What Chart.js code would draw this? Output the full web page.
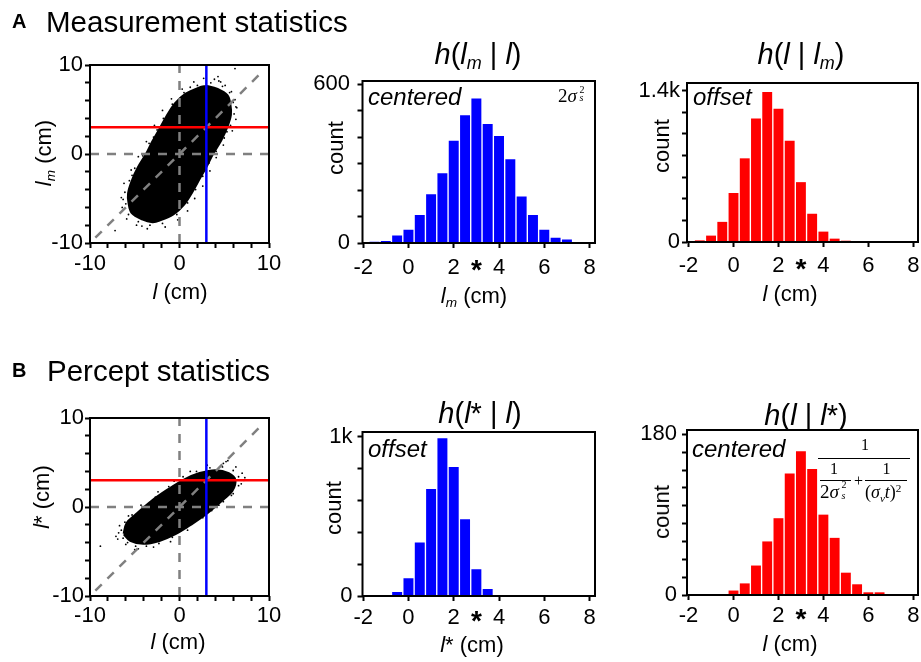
<!DOCTYPE html>
<html>
<head>
<meta charset="utf-8">
<title>Measurement and percept statistics</title>
<script src="https://cdn.jsdelivr.net/npm/chart.js@4.4.1/dist/chart.umd.min.js"></script>
<style>
  html, body { margin: 0; padding: 0; background: #fff; }
  #fig { position: relative; width: 921px; height: 662px; overflow: hidden; background: #fff;
         font-family: 'Liberation Sans', Arial, Helvetica, sans-serif; color: #000; }
  #fig canvas { position: absolute; left: 0; top: 0; }
  .t { position: absolute; white-space: nowrap; line-height: 1; z-index: 2; }
  .c { transform: translate(-50%, -50%); }
  .l { transform: translate(0, -50%); }
  .r { transform: translate(-50%, -50%) rotate(-90deg); }
  .t sub { font-size: 0.62em; vertical-align: -0.32em; line-height: 0; }
  .t sup { font-size: 0.62em; vertical-align: 0.55em; line-height: 0; }
  .serif { font-family: 'Liberation Serif', 'Times New Roman', serif; }
  .fbar { position: absolute; height: 1.3px; background: #000; z-index: 2; }
</style>
</head>
<body>
<div id="fig">
  <canvas id="scatMeas" width="921" height="662"></canvas>
  <canvas id="histLmGivenL" width="921" height="662"></canvas>
  <canvas id="histLGivenLm" width="921" height="662"></canvas>
  <canvas id="scatPercept" width="921" height="662"></canvas>
  <canvas id="histLstarGivenL" width="921" height="662"></canvas>
  <canvas id="histLGivenLstar" width="921" height="662"></canvas>

  <!-- row A -->
  <div class="t l" style="left:12px;top:21px;font-size:20px;font-weight:bold">A</div>
  <div class="t l" style="left:46px;top:22px;font-size:29.5px">Measurement statistics</div>
  <div class="t c" style="left:478px;top:53.5px;font-size:29px"><i>h</i>(<i>l</i><sub><i>m</i></sub> | <i>l</i>)</div>
  <div class="t c" style="left:801px;top:53.5px;font-size:29px"><i>h</i>(<i>l</i> | <i>l</i><sub><i>m</i></sub>)</div>

  <div class="t c" style="left:180px;top:292px;font-size:22px"><i>l</i> (cm)</div>
  <div class="t r" style="left:44px;top:153px;font-size:22px"><i>l</i><sub><i>m</i></sub> (cm)</div>
  <div class="t c" style="left:474px;top:296px;font-size:22px"><i>l</i><sub><i>m</i></sub> (cm)</div>
  <div class="t r" style="left:336px;top:148px;font-size:22px">count</div>
  <div class="t c" style="left:790px;top:294px;font-size:22px"><i>l</i> (cm)</div>
  <div class="t r" style="left:662px;top:146px;font-size:22px">count</div>

  <div class="t l" style="left:368px;top:96.7px;font-size:24px;font-style:italic">centered</div>
  <div class="t l" style="left:693px;top:97px;font-size:24px;font-style:italic">offset</div>

  <div class="t serif" style="left:558px;top:85.6px;font-size:19px">2<i>σ</i></div>
  <div class="t serif" style="left:579.5px;top:84.6px;font-size:10px">2</div>
  <div class="t serif" style="left:579.5px;top:92.6px;font-size:10px"><i>s</i></div>

  <!-- row B -->
  <div class="t l" style="left:12px;top:370px;font-size:20px;font-weight:bold">B</div>
  <div class="t l" style="left:47px;top:370.5px;font-size:29.5px">Percept statistics</div>
  <div class="t c" style="left:480px;top:413px;font-size:29px"><i>h</i>(<i>l</i>* | <i>l</i>)</div>
  <div class="t c" style="left:806px;top:415px;font-size:29px"><i>h</i>(<i>l</i> | <i>l</i>*)</div>

  <div class="t c" style="left:178px;top:642px;font-size:22px"><i>l</i> (cm)</div>
  <div class="t r" style="left:42px;top:497px;font-size:22px"><i>l</i>* (cm)</div>
  <div class="t c" style="left:472px;top:645px;font-size:22px"><i>l</i>* (cm)</div>
  <div class="t r" style="left:334px;top:508px;font-size:22px">count</div>
  <div class="t c" style="left:790px;top:643.5px;font-size:22px"><i>l</i> (cm)</div>
  <div class="t r" style="left:662px;top:512px;font-size:22px">count</div>

  <div class="t l" style="left:368px;top:449.4px;font-size:24px;font-style:italic">offset</div>
  <div class="t l" style="left:692px;top:448.7px;font-size:24px;font-style:italic">centered</div>

  <!-- posterior variance: 1 / (1/(2 sigma_s^2) + 1/(sigma_v t)^2) -->
  <div class="t serif c" style="left:865px;top:445px;font-size:16px">1</div>
  <div class="fbar" style="left:818px;top:457.5px;width:92px"></div>
  <div class="t serif c" style="left:834px;top:469px;font-size:16px">1</div>
  <div class="fbar" style="left:820px;top:479.5px;width:31px"></div>
  <div class="t serif" style="left:820px;top:482px;font-size:19px">2<i>σ</i></div>
  <div class="t serif" style="left:841.5px;top:480.3px;font-size:10px">2</div>
  <div class="t serif" style="left:841.5px;top:490.6px;font-size:10px"><i>s</i></div>
  <div class="t serif c" style="left:858.5px;top:481px;font-size:16px">+</div>
  <div class="t serif c" style="left:886.5px;top:469px;font-size:16px">1</div>
  <div class="fbar" style="left:865px;top:479.5px;width:42px"></div>
  <div class="t serif" style="left:865px;top:482.5px;font-size:18px">(<i>σ</i><sub><i>v</i></sub><i>t</i>)<sup>2</sup></div>
</div>

<script>
// ---------------- histogram values ----------------
// bin centres (cm), bin width 0.5 cm
const binCenters = [-1.5, -1, -0.5, 0, 0.5, 1, 1.5, 2, 2.5, 3, 3.5, 4, 4.5, 5, 5.5, 6, 6.5, 7];
// h(l_m | l): measurements given the stimulus l = 3
const countLmGivenL = [5, 8, 28, 50, 106, 184, 264, 387, 483, 547, 450, 405, 317, 176, 106, 50, 20, 13];
// h(l | l_m): stimuli given the measurement l_m = 3
const countLGivenLm = [15, 59, 186, 453, 773, 1140, 1385, 1230, 935, 553, 261, 96, 31, 12, 6, 6, 5, 4];
// h(l* | l): percepts given the stimulus l = 3
const perceptBinCenters = [-0.5, 0, 0.5, 1, 1.5, 2, 2.5, 3, 3.5];
const countLstarGivenL = [25, 111, 336, 672, 992, 811, 483, 168, 44];
// h(l | l*): stimuli given the percept l* = 3
const countLGivenLstar = [1, 1, 1, 5, 13, 33, 60, 86, 136, 161, 141, 90, 64, 25, 12, 3, 3, 1];

// conditioning values (cm)
const stimulusL = 3;     // blue line
const observedL = 3;     // red line (l_m or l*)

// ---------------- joint clouds (outline of the dense region, cm) ----------------
const cloudMeasX = [3.02, 4.16, 5.31, 5.64, 5.69, 5.26, 4.61, 3.68, 3.02, 2.21, 1.41, 0.47, -0.68, -2.24,
                    -3.02, -4.16, -5.31, -5.64, -5.69, -5.26, -4.61, -3.68, -3.02, -2.21, -1.41, -0.47, 0.68, 2.24, 3.02];
const cloudMeasY = [7.60, 7.29, 6.57, 5.49, 4.42, 2.98, 1.55, 0.00, -1.32, -2.76, -4.20, -5.64, -6.71, -7.43,
                    -7.60, -7.29, -6.57, -5.49, -4.42, -2.98, -1.55, 0.00, 1.32, 2.76, 4.20, 5.64, 6.71, 7.43, 7.60];
// sparse samples around the dense region
const strayMeasX = [3.9, 4.6, 4.3, 5.1, 5.8, 6.2, 6.4, 6.3, 5.9, 4.9, 4.1, 3.4, 2.6, 1.7, 0.9, -0.2, -1.6, -3.6,
                    -4.8, -5.9, -6.4, -6.5, -6.2, -5.4, -4.6, -3.7, -2.8, -1.9, -0.9, 0.3, 1.6, 2.7, 6.2, -7.2,
                    3.5, 4.8, 5.6, 6.0, 6.1, 5.7, 5.0, 4.1, 3.3, 2.6, 1.8, 0.9, -0.3, -1.9, -3.3, -4.6, -5.7,
                    -6.0, -6.1, -5.6, -5.0, -4.1, -3.4, -2.5, -1.8, -0.8, 0.5, 2.0, 1.2, -6.3, 6.3, 4.4, -4.2,
                    -2.9, 2.9, 5.3, -5.3];
const strayMeasY = [8.4, 8.1, 8.7, 7.7, 7.0, 6.1, 5.2, 3.9, 2.6, 1.0, -0.4, -1.9, -3.6, -5.0, -6.4, -7.4, -8.2, -8.4,
                    -8.0, -7.3, -6.0, -4.9, -3.3, -1.8, -0.3, 1.4, 3.2, 4.9, 6.2, 7.3, 8.1, 8.5, 9.6, -8.6,
                    8.0, 7.6, 6.9, 5.8, 4.5, 3.2, 1.8, 0.3, -1.0, -2.5, -4.0, -5.5, -6.8, -7.8, -8.0, -7.6, -6.8,
                    -5.6, -4.3, -3.0, -1.6, -0.2, 1.2, 2.7, 4.0, 5.6, 6.9, 7.7, 7.5, -5.1, 5.3, 8.2, -8.1,
                    1.9, -1.8, 2.5, -2.4];

const cloudPerceptX = [-6.19, -5.86, -4.91, -3.12, -1.32, 0.47, 2.26, 4.05, 5.48, 6.19,
                       5.86, 4.91, 3.12, 1.32, -0.47, -2.26, -4.05, -5.48, -6.19];
const cloudPerceptY = [-3.02, -1.82, -0.91, 0.63, 1.90, 3.01, 3.76, 4.08, 3.74, 3.02,
                       1.82, 0.91, -0.63, -1.90, -3.01, -3.76, -4.08, -3.74, -3.02];
const strayPerceptX = [-8.84, -6.9, -6.7, -6.0, -4.6, -2.9, -1.0, 0.9, 2.6, 4.4, 5.8, 6.9, 7.0, 6.3, 4.9, 3.1,
                       1.2, -0.6, -2.4, -4.3, -5.7, 7.3, 5.4,
                       -6.5, -6.3, -5.8, -4.9, -3.7, -2.3, -0.8, 0.8, 2.2, 3.6, 4.9, 6.0, 6.6, 6.6, 6.0, 4.8,
                       3.4, 1.9, 0.4, -1.2, -2.7, -4.1, -5.3, -6.1, -6.8, 7.2, -7.1, 5.2, -5.0];
const strayPerceptY = [-4.4, -3.6, -2.1, -4.2, -4.7, -4.5, -3.9, -2.6, -1.2, 0.2, 1.3, 2.6, 3.8, 4.5, 4.9, 4.7,
                       4.0, 2.9, 1.7, 0.2, -1.0, 3.3, 5.2,
                       -2.6, -3.5, -4.0, -4.4, -4.4, -4.1, -3.4, -2.3, -1.2, -0.4, 0.6, 1.5, 2.4, 3.4, 4.1, 4.5,
                       4.4, 4.0, 3.4, 2.3, 1.1, -0.1, -0.9, -1.7, -2.9, 3.0, -3.3, 5.1, -4.8];

// ---------------- axis ticks ----------------
const scatterTicks = [-10, -8, -6, -4, -2, 0, 2, 4, 6, 8, 10];
const scatterTickText = ['-10', '', '', '', '', '0', '', '', '', '', '10'];
const histXTicks = [-2, 0, 2, 3, 4, 6, 8];
const histXTickText = ['-2', '0', '2', '*', '4', '6', '8'];
const countTicksLmGivenL = [0, 100, 200, 300, 400, 500, 600];
const countTextLmGivenL = ['0', '', '', '', '', '', '600'];
const countTicksLGivenLm = [0, 200, 400, 600, 800, 1000, 1200, 1400];
const countTextLGivenLm = ['0', '', '', '', '', '', '', '1.4k'];
const countTicksLstarGivenL = [0, 200, 400, 600, 800, 1000];
const countTextLstarGivenL = ['0', '', '', '', '', '1k'];
const countTicksLGivenLstar = [0, 20, 40, 60, 80, 100, 120, 140, 160, 180];
const countTextLGivenLstar = ['0', '', '', '', '', '', '', '', '', '180'];

// ---------------- drawing ----------------
const FONT = "'Liberation Sans', Arial, Helvetica, sans-serif";
const W = 921, H = 662, YAXIS_W = 60, XAXIS_H = 44;

// black box round every plot area
const framePlugin = {
  id: 'frame',
  afterDraw(chart) {
    const { ctx, chartArea: a } = chart;
    ctx.save();
    ctx.strokeStyle = '#000';
    ctx.lineWidth = 2;
    ctx.strokeRect(a.left, a.top, a.right - a.left, a.bottom - a.top);
    ctx.restore();
  }
};

function layoutFor(box) {
  return { left: box.left - YAXIS_W, top: box.top, right: W - box.right, bottom: H - box.bottom - XAXIS_H };
}

function axis(pos, min, max, values, texts, labelPad) {
  const isStar = c => c.tick && texts[values.indexOf(c.tick.value)] === '*';
  return {
    type: 'linear', position: pos, min: min, max: max, offset: false,
    grid: {
      drawOnChartArea: false, drawTicks: true, tickLength: 5, tickWidth: 2, offset: false,
      tickColor: c => isStar(c) ? 'rgba(0,0,0,0)' : '#000'
    },
    border: { display: false },
    ticks: {
      autoSkip: false, maxRotation: 0, minRotation: 0, padding: labelPad, color: '#000',
      font: c => isStar(c) ? { family: FONT, size: 28, weight: 'bold' } : { family: FONT, size: 22 },
      callback: v => { const i = values.indexOf(v); return i < 0 ? '' : texts[i]; }
    },
    afterBuildTicks: s => { s.ticks = values.map(v => ({ value: v })); },
    afterFit: s => {
      if (pos === 'bottom') s.height = XAXIS_H; else s.width = YAXIS_W;
      s.paddingLeft = s.paddingRight = s.paddingTop = s.paddingBottom = 0;
    }
  };
}

function baseOptions(box) {
  return {
    responsive: false, animation: false, events: [], devicePixelRatio: 1,
    layout: { padding: layoutFor(box), autoPadding: false },
    plugins: { legend: { display: false }, tooltip: { enabled: false }, title: { display: false } }
  };
}

const pts = (xs, ys) => xs.map((x, i) => ({ x: x, y: ys[i] }));

function scatterPanel(id, box, cx, cy, sx, sy, xPad, yPad) {
  const ref = (data, order) => ({
    data: data, showLine: true, borderColor: '#808080', borderWidth: 2.5,
    borderDash: [9, 8], pointRadius: 0, order: order
  });
  const opts = baseOptions(box);
  opts.scales = {
    x: axis('bottom', -10, 10, scatterTicks, scatterTickText, xPad),
    y: axis('left', -10, 10, scatterTicks, scatterTickText, yPad)
  };
  new Chart(document.getElementById(id), {
    type: 'scatter',
    data: {
      datasets: [
        { data: [{ x: stimulusL, y: -10 }, { x: stimulusL, y: 10 }], showLine: true,
          borderColor: '#0000ff', borderWidth: 2.5, pointRadius: 0, order: 1 },
        { data: [{ x: -10, y: observedL }, { x: 10, y: observedL }], showLine: true,
          borderColor: '#ff0000', borderWidth: 2.5, pointRadius: 0, order: 2 },
        ref([{ x: 0, y: -10 }, { x: 0, y: 10 }], 3),
        ref([{ x: -10, y: 0 }, { x: 10, y: 0 }], 3),
        ref([{ x: -9.4, y: -9.4 }, { x: 9.4, y: 9.4 }], 3),
        { data: pts(sx, sy), pointRadius: 0.9, pointBackgroundColor: '#000',
          pointBorderWidth: 0, order: 4 },
        { data: pts(cx, cy), showLine: true, fill: 'shape', backgroundColor: '#000',
          borderColor: '#000', borderWidth: 3, tension: 0.35, pointRadius: 0, order: 5 }
      ]
    },
    options: opts,
    plugins: [framePlugin]
  });
}

function histPanel(id, box, centers, counts, color, xMin, xMax, yMax, yTicks, yText, xPad, yPad) {
  const opts = baseOptions(box);
  opts.scales = {
    x: axis('bottom', xMin, xMax, histXTicks, histXTickText, xPad),
    y: axis('left', 0, yMax, yTicks, yText, yPad)
  };
  new Chart(document.getElementById(id), {
    type: 'bar',
    data: {
      datasets: [{ data: pts(centers, counts), backgroundColor: color, borderWidth: 0,
                   barPercentage: 0.88, categoryPercentage: 1 }]
    },
    options: opts,
    plugins: [framePlugin]
  });
}

scatterPanel('scatMeas', { left: 90, right: 269, top: 65, bottom: 243 },
             cloudMeasX, cloudMeasY, strayMeasX, strayMeasY, 3, 2);
histPanel('histLmGivenL', { left: 362.5, right: 595, top: 81, bottom: 243 },
          binCenters, countLmGivenL, '#0000ff', -2.03, 8.24, 613,
          countTicksLmGivenL, countTextLmGivenL, 6.5, 7.5);
histPanel('histLGivenLm', { left: 687, right: 918, top: 83, bottom: 242 },
          binCenters, countLGivenLm, '#ff0000', -2.07, 8.21, 1469,
          countTicksLGivenLm, countTextLGivenLm, 6, 2);

scatterPanel('scatPercept', { left: 90, right: 269, top: 418, bottom: 596 },
             cloudPerceptX, cloudPerceptY, strayPerceptX, strayPerceptY, 1.5, 1);
histPanel('histLstarGivenL', { left: 362.5, right: 595, top: 432, bottom: 596 },
          perceptBinCenters, countLstarGivenL, '#0000ff', -2.03, 8.24, 1031,
          countTicksLstarGivenL, countTextLstarGivenL, 4, 5);
histPanel('histLGivenLstar', { left: 687, right: 918, top: 430, bottom: 595 },
          binCenters, countLGivenLstar, '#ff0000', -2.07, 8.21, 184.8,
          countTicksLGivenLstar, countTextLGivenLstar, 3, 5);
</script>
</body>
</html>
